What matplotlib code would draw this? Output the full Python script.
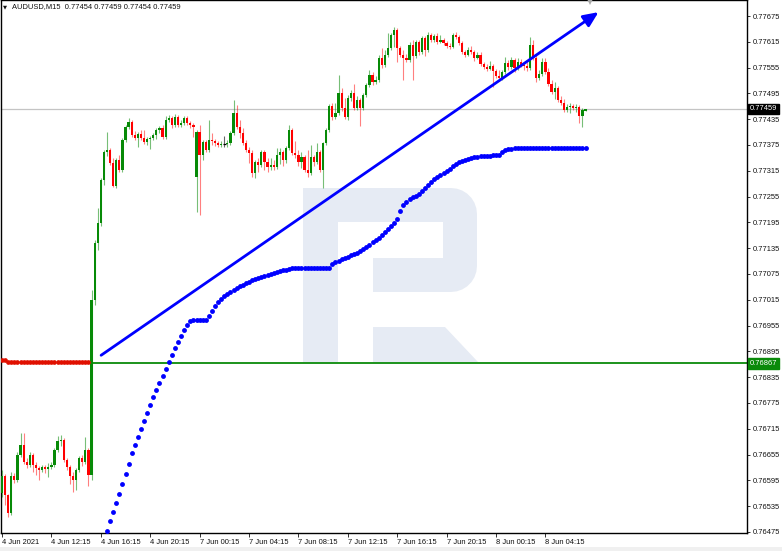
import numpy as np
import matplotlib
matplotlib.use("Agg")
import matplotlib.pyplot as plt
from matplotlib.patches import Polygon, Rectangle
import matplotlib.transforms as mtransforms

# ---------------- data ----------------
title_text = "AUDUSD,M15  0.77454 0.77459 0.77454 0.77459"

opens = [
 0.76566, 0.76605, 0.76561, 0.76519, 0.76605, 0.76596, 0.76654, 0.76677, 0.76638, 0.76631,
 0.76654, 0.76631, 0.76624, 0.76619, 0.76626, 0.76621, 0.76626, 0.76631, 0.76666, 0.76686,
 0.76689, 0.76642, 0.76626, 0.76605, 0.76596, 0.76619, 0.76647, 0.76638, 0.76666, 0.76607,
 0.77014, 0.77147, 0.77194, 0.77294, 0.77359, 0.77363, 0.77333, 0.77280, 0.77340, 0.77317,
 0.77387, 0.77417, 0.77428, 0.77398, 0.77391, 0.77400, 0.77391, 0.77382, 0.77389, 0.77391,
 0.77398, 0.77410, 0.77414, 0.77393, 0.77433, 0.77438, 0.77421, 0.77440, 0.77421, 0.77426,
 0.77438, 0.77426, 0.77421, 0.77301, 0.77405, 0.77352, 0.77382, 0.77363, 0.77387, 0.77384,
 0.77380, 0.77375, 0.77377, 0.77377, 0.77380, 0.77403, 0.77449, 0.77417, 0.77403, 0.77380,
 0.77363, 0.77356, 0.77310, 0.77335, 0.77328, 0.77359, 0.77335, 0.77324, 0.77328, 0.77324,
 0.77352, 0.77359, 0.77340, 0.77368, 0.77410, 0.77356, 0.77352, 0.77335, 0.77347, 0.77317,
 0.77310, 0.77347, 0.77335, 0.77359, 0.77317, 0.77380, 0.77410, 0.77466, 0.77440, 0.77449,
 0.77496, 0.77461, 0.77440, 0.77484, 0.77496, 0.77461, 0.77480, 0.77461, 0.77491, 0.77514,
 0.77538, 0.77522, 0.77526, 0.77577, 0.77561, 0.77584, 0.77601, 0.77631, 0.77642, 0.77601,
 0.77584, 0.77577, 0.77573, 0.77608, 0.77582, 0.77614, 0.77591, 0.77624, 0.77596, 0.77631,
 0.77619, 0.77628, 0.77614, 0.77619, 0.77612, 0.77605, 0.77603, 0.77631, 0.77626, 0.77612,
 0.77591, 0.77584, 0.77596, 0.77591, 0.77577, 0.77584, 0.77563, 0.77556, 0.77552, 0.77559,
 0.77547, 0.77535, 0.77531, 0.77545, 0.77566, 0.77556, 0.77573, 0.77554, 0.77568, 0.77561,
 0.77559, 0.77554, 0.77608, 0.77577, 0.77531, 0.77540, 0.77568, 0.77545, 0.77517, 0.77498,
 0.77508, 0.77480, 0.77473, 0.77456, 0.77463, 0.77466, 0.77461, 0.77463, 0.77442, 0.77454]

highs = [
 0.76619, 0.76610, 0.76563, 0.76614, 0.76612, 0.76661, 0.76705, 0.76705, 0.76647, 0.76661,
 0.76659, 0.76638, 0.76628, 0.76631, 0.76631, 0.76635, 0.76638, 0.76670, 0.76698, 0.76700,
 0.76693, 0.76647, 0.76631, 0.76614, 0.76624, 0.76652, 0.76654, 0.76696, 0.76670, 0.77038,
 0.77154, 0.77228, 0.77298, 0.77363, 0.77405, 0.77368, 0.77345, 0.77345, 0.77352, 0.77391,
 0.77421, 0.77438, 0.77433, 0.77407, 0.77405, 0.77410, 0.77410, 0.77393, 0.77396, 0.77403,
 0.77414, 0.77419, 0.77421, 0.77442, 0.77445, 0.77442, 0.77447, 0.77445, 0.77433, 0.77442,
 0.77442, 0.77431, 0.77426, 0.77410, 0.77421, 0.77387, 0.77387, 0.77433, 0.77403, 0.77389,
 0.77384, 0.77384, 0.77396, 0.77387, 0.77407, 0.77480, 0.77468, 0.77433, 0.77414, 0.77387,
 0.77370, 0.77363, 0.77340, 0.77345, 0.77363, 0.77363, 0.77345, 0.77345, 0.77340, 0.77368,
 0.77368, 0.77363, 0.77373, 0.77421, 0.77414, 0.77384, 0.77363, 0.77359, 0.77352, 0.77363,
 0.77375, 0.77352, 0.77380, 0.77363, 0.77382, 0.77414, 0.77470, 0.77473, 0.77473, 0.77538,
 0.77508, 0.77484, 0.77491, 0.77503, 0.77517, 0.77489, 0.77484, 0.77496, 0.77519, 0.77549,
 0.77545, 0.77535, 0.77584, 0.77601, 0.77596, 0.77635, 0.77635, 0.77649, 0.77647, 0.77605,
 0.77596, 0.77587, 0.77614, 0.77619, 0.77619, 0.77619, 0.77628, 0.77628, 0.77638, 0.77635,
 0.77633, 0.77635, 0.77631, 0.77624, 0.77617, 0.77612, 0.77635, 0.77638, 0.77631, 0.77617,
 0.77596, 0.77603, 0.77605, 0.77596, 0.77591, 0.77591, 0.77568, 0.77563, 0.77570, 0.77563,
 0.77552, 0.77549, 0.77549, 0.77580, 0.77573, 0.77580, 0.77577, 0.77577, 0.77575, 0.77568,
 0.77568, 0.77626, 0.77619, 0.77584, 0.77549, 0.77577, 0.77577, 0.77554, 0.77526, 0.77522,
 0.77512, 0.77489, 0.77482, 0.77470, 0.77473, 0.77470, 0.77470, 0.77468, 0.77461, 0.77459]

lows = [
 0.76556, 0.76538, 0.76510, 0.76514, 0.76589, 0.76591, 0.76649, 0.76633, 0.76624, 0.76626,
 0.76614, 0.76607, 0.76596, 0.76614, 0.76612, 0.76603, 0.76621, 0.76626, 0.76661, 0.76675,
 0.76638, 0.76619, 0.76586, 0.76568, 0.76572, 0.76614, 0.76628, 0.76633, 0.76582, 0.76596,
 0.77003, 0.77131, 0.77187, 0.77282, 0.77349, 0.77328, 0.77277, 0.77275, 0.77312, 0.77312,
 0.77382, 0.77412, 0.77393, 0.77387, 0.77370, 0.77387, 0.77377, 0.77375, 0.77366, 0.77387,
 0.77389, 0.77403, 0.77389, 0.77389, 0.77428, 0.77414, 0.77417, 0.77417, 0.77417, 0.77421,
 0.77421, 0.77414, 0.77393, 0.77219, 0.77212, 0.77340, 0.77359, 0.77359, 0.77375, 0.77373,
 0.77370, 0.77370, 0.77370, 0.77370, 0.77375, 0.77398, 0.77412, 0.77391, 0.77375, 0.77359,
 0.77333, 0.77301, 0.77298, 0.77312, 0.77324, 0.77317, 0.77312, 0.77317, 0.77317, 0.77319,
 0.77331, 0.77326, 0.77333, 0.77363, 0.77352, 0.77345, 0.77326, 0.77321, 0.77312, 0.77301,
 0.77305, 0.77326, 0.77331, 0.77312, 0.77275, 0.77375, 0.77405, 0.77433, 0.77435, 0.77445,
 0.77454, 0.77435, 0.77433, 0.77477, 0.77456, 0.77456, 0.77419, 0.77456, 0.77487, 0.77510,
 0.77514, 0.77517, 0.77522, 0.77554, 0.77556, 0.77580, 0.77596, 0.77603, 0.77568, 0.77580,
 0.77526, 0.77568, 0.77568, 0.77526, 0.77577, 0.77584, 0.77587, 0.77582, 0.77591, 0.77614,
 0.77614, 0.77610, 0.77612, 0.77608, 0.77601, 0.77598, 0.77601, 0.77621, 0.77608, 0.77587,
 0.77580, 0.77582, 0.77587, 0.77570, 0.77575, 0.77559, 0.77552, 0.77547, 0.77549, 0.77510,
 0.77531, 0.77524, 0.77526, 0.77540, 0.77549, 0.77552, 0.77545, 0.77549, 0.77556, 0.77549,
 0.77547, 0.77549, 0.77573, 0.77522, 0.77526, 0.77535, 0.77540, 0.77512, 0.77494, 0.77482,
 0.77475, 0.77468, 0.77452, 0.77452, 0.77449, 0.77456, 0.77452, 0.77426, 0.77417, 0.77454]

closes = [
 0.76605, 0.76561, 0.76519, 0.76605, 0.76596, 0.76654, 0.76677, 0.76638, 0.76631, 0.76654,
 0.76631, 0.76624, 0.76619, 0.76626, 0.76621, 0.76626, 0.76631, 0.76666, 0.76686, 0.76689,
 0.76642, 0.76626, 0.76605, 0.76596, 0.76619, 0.76647, 0.76638, 0.76666, 0.76607, 0.77014,
 0.77147, 0.77194, 0.77294, 0.77359, 0.77363, 0.77333, 0.77280, 0.77340, 0.77317, 0.77387,
 0.77417, 0.77428, 0.77398, 0.77391, 0.77400, 0.77391, 0.77382, 0.77389, 0.77391, 0.77398,
 0.77410, 0.77414, 0.77393, 0.77433, 0.77438, 0.77421, 0.77440, 0.77421, 0.77426, 0.77438,
 0.77426, 0.77421, 0.77417, 0.77405, 0.77352, 0.77382, 0.77363, 0.77387, 0.77384, 0.77380,
 0.77375, 0.77377, 0.77377, 0.77380, 0.77403, 0.77449, 0.77417, 0.77403, 0.77380, 0.77363,
 0.77356, 0.77310, 0.77335, 0.77328, 0.77359, 0.77335, 0.77324, 0.77328, 0.77324, 0.77352,
 0.77359, 0.77340, 0.77368, 0.77410, 0.77356, 0.77352, 0.77335, 0.77347, 0.77317, 0.77310,
 0.77347, 0.77335, 0.77359, 0.77317, 0.77380, 0.77410, 0.77466, 0.77440, 0.77449, 0.77496,
 0.77461, 0.77440, 0.77484, 0.77496, 0.77461, 0.77480, 0.77461, 0.77491, 0.77514, 0.77538,
 0.77522, 0.77526, 0.77577, 0.77561, 0.77584, 0.77601, 0.77631, 0.77642, 0.77601, 0.77584,
 0.77577, 0.77573, 0.77608, 0.77582, 0.77614, 0.77591, 0.77624, 0.77596, 0.77631, 0.77619,
 0.77628, 0.77614, 0.77619, 0.77612, 0.77605, 0.77603, 0.77631, 0.77626, 0.77612, 0.77591,
 0.77584, 0.77596, 0.77591, 0.77577, 0.77584, 0.77563, 0.77556, 0.77552, 0.77559, 0.77547,
 0.77535, 0.77531, 0.77545, 0.77566, 0.77556, 0.77573, 0.77554, 0.77568, 0.77561, 0.77559,
 0.77554, 0.77608, 0.77577, 0.77531, 0.77540, 0.77568, 0.77545, 0.77517, 0.77498, 0.77508,
 0.77480, 0.77473, 0.77456, 0.77463, 0.77466, 0.77461, 0.77463, 0.77442, 0.77456, 0.77459]

# indicator dots (blue) start at bar 34
blue_start = 34
blue_vals = [
 0.76477, 0.76500, 0.76521, 0.76542, 0.76563, 0.76586, 0.76610, 0.76633, 0.76659, 0.76677,
 0.76696, 0.76714, 0.76733, 0.76752, 0.76770, 0.76789, 0.76805, 0.76821, 0.76838, 0.76854,
 0.76870, 0.76886, 0.76903, 0.76917, 0.76931, 0.76945, 0.76956, 0.76966, 0.76968, 0.76968,
 0.76968, 0.76968, 0.76968, 0.76977, 0.76989, 0.77000, 0.77010, 0.77017, 0.77024, 0.77028,
 0.77033, 0.77038, 0.77042, 0.77047, 0.77049, 0.77054, 0.77056, 0.77061, 0.77063, 0.77066,
 0.77068, 0.77070, 0.77073, 0.77075, 0.77077, 0.77080, 0.77082, 0.77084, 0.77085, 0.77087,
 0.77088, 0.77088, 0.77088, 0.77088, 0.77088, 0.77088, 0.77088, 0.77090, 0.77090, 0.77090,
 0.77090, 0.77090, 0.77090,
 0.77098, 0.77103, 0.77105, 0.77110, 0.77112, 0.77114, 0.77119, 0.77121, 0.77124, 0.77128,
 0.77133, 0.77138, 0.77142, 0.77149, 0.77154, 0.77159, 0.77166, 0.77173, 0.77180, 0.77187,
 0.77194, 0.77203, 0.77221, 0.77235, 0.77242, 0.77249, 0.77254, 0.77256, 0.77261, 0.77268,
 0.77275, 0.77282, 0.77289, 0.77296, 0.77301, 0.77305, 0.77310, 0.77314, 0.77319, 0.77326,
 0.77331, 0.77335, 0.77338, 0.77340, 0.77342, 0.77345, 0.77347, 0.77348, 0.77349, 0.77349,
 0.77350, 0.77350, 0.77352, 0.77352, 0.77352, 0.77359, 0.77363, 0.77366, 0.77366, 0.77367,
 0.77369, 0.77369, 0.77369, 0.77369, 0.77369, 0.77369, 0.77369, 0.77369, 0.77369, 0.77369,
 0.77369, 0.77369, 0.77369, 0.77369, 0.77369, 0.77369, 0.77369, 0.77369, 0.77369, 0.77369,
 0.77369, 0.77369, 0.77369]

# indicator dots (red) bars 0..28
red_vals = [
 0.76875, 0.76874, 0.76871, 0.76871, 0.76871, 0.76871, 0.76871, 0.76871, 0.76871, 0.76871,
 0.76871, 0.76871, 0.76871, 0.76871, 0.76871, 0.76871, 0.76871, 0.76871, 0.76871, 0.76871,
 0.76871, 0.76871, 0.76871, 0.76871, 0.76871, 0.76871, 0.76871, 0.76871, 0.76871]

level_price = 0.76867
level_start = 28.6
last_price = 0.77459
trend_x = [32.1, 193.2]
trend_y = [0.76886, 0.77684]

xtick_pos = [0, 16, 32, 48, 64, 80, 96, 112, 128, 144, 160, 176]
xtick_labels = ["4 Jun 2021", "4 Jun 12:15", "4 Jun 16:15", "4 Jun 20:15",
                "7 Jun 00:15", "7 Jun 04:15", "7 Jun 08:15", "7 Jun 12:15",
                "7 Jun 16:15", "7 Jun 20:15", "8 Jun 00:15", "8 Jun 04:15"]
ytick_vals = [0.76475, 0.76535, 0.76595, 0.76655, 0.76715, 0.76775, 0.76835,
              0.76895, 0.76955, 0.77015, 0.77075, 0.77135, 0.77195, 0.77255,
              0.77315, 0.77375, 0.77435, 0.77495, 0.77555, 0.77615, 0.77675]

# ---------------- figure ----------------
FONT = "Liberation Sans"
FS = 5.4
TXT = "#101010"
W, HGT = 782, 551
PX_PER_BAR = 3.0875

fig = plt.figure(figsize=(W / 100, HGT / 100), dpi=100)
fig.patch.set_facecolor("white")
ax = fig.add_axes([1 / W, 18 / HGT, 746 / W, 533 / HGT])
ax.set_facecolor("white")
ax.set_xlim(-1 / PX_PER_BAR, 745 / PX_PER_BAR)
ax.set_ylim(0.7647267, 0.7771221)

def axp(x, y):
    return ((x - 1) / 746.0, (533 - y) / 533.0)

# watermark logo
wm = "#e6ebf4"
stem = [axp(303, 188), axp(338, 188), axp(338, 362), axp(303, 362)]
ax.add_patch(Polygon(stem, closed=True, transform=ax.transAxes, fc=wm, ec="none", zorder=0))
r = 26
bowl = [axp(338, 188), axp(477 - r, 188)]
for t in np.linspace(np.pi / 2, 0, 8):
    bowl.append(axp(477 - r + r * np.cos(t), 188 + r - r * np.sin(t)))
for t in np.linspace(0, -np.pi / 2, 8):
    bowl.append(axp(477 - r + r * np.cos(t), 292 - r - r * np.sin(t)))
bowl += [axp(373, 292), axp(373, 258), axp(443, 258), axp(443, 222), axp(338, 222)]
ax.add_patch(Polygon(bowl, closed=True, transform=ax.transAxes, fc=wm, ec="none", zorder=0))
leg = [axp(373, 327), axp(445, 327), axp(478, 362), axp(373, 362)]
ax.add_patch(Polygon(leg, closed=True, transform=ax.transAxes, fc=wm, ec="none", zorder=0))

# horizontal lines
ax.axhline(last_price, color="#c4c4c4", lw=0.9, zorder=1)
ax.hlines(level_price, level_start, 260, color="#0a8a0a", lw=1.3, zorder=2)

# candles
o = np.array(opens); h = np.array(highs); l = np.array(lows); c = np.array(closes)
idx = np.arange(len(c))
bull = c > o
bear = c < o
flat = c == o
GREEN = "#078a07"
RED = "#ff0000"
minh = 1.0 / 43000
ax.vlines(idx[bull], l[bull], h[bull], colors=GREEN, alpha=0.55, lw=0.8, zorder=3)
ax.vlines(idx[bear], l[bear], h[bear], colors=RED, alpha=0.5, lw=0.8, zorder=3)
ax.vlines(idx[flat], l[flat], h[flat], colors="black", alpha=0.6, lw=0.8, zorder=3)
ax.bar(idx[bull], np.maximum(c[bull] - o[bull], minh), bottom=o[bull], width=0.72,
       color=GREEN, lw=0, zorder=4)
ax.bar(idx[bear], np.maximum(o[bear] - c[bear], minh), bottom=c[bear], width=0.72,
       color=RED, lw=0, zorder=4)
ax.hlines(o[flat], idx[flat] - 0.4, idx[flat] + 0.4, colors="black", lw=0.9, zorder=4)

# indicator dots
ax.plot(np.arange(len(red_vals)), red_vals, "o", color="#e01000", ms=3.4, mew=0, zorder=5)
bidx = np.arange(blue_start, blue_start + len(blue_vals))
ax.plot(bidx, blue_vals, "o", color="#0000ff", ms=3.5, mew=0, zorder=6)

# trend line with arrow
ax.annotate("", xy=(trend_x[1], trend_y[1]), xytext=(trend_x[0], trend_y[0]),
            arrowprops=dict(arrowstyle="-|>,head_length=0.9,head_width=0.4",
                            color="#0000ff", lw=2.0, shrinkA=0, shrinkB=0,
                            mutation_scale=10), zorder=7)

# small grey shift marker at the top
trX = mtransforms.blended_transform_factory(ax.transData, ax.transAxes)
ax.plot([190.4], [0.996], "v", color="#a8a8a8", ms=4, mew=0, transform=trX,
        clip_on=False, zorder=8)

# title
ax.text(*axp(3, 7), "\u25BC", transform=ax.transAxes, fontsize=3.8, ha="left",
        va="center", color=TXT, family="DejaVu Sans")
ax.text(*axp(12.5, 6.5), title_text, transform=ax.transAxes, fontsize=FS, ha="left",
        va="center", color=TXT, family=FONT)

# axes styling
for s in ax.spines.values():
    s.set_color("black")
    s.set_linewidth(1.0)
ax.yaxis.tick_right()
ax.set_yticks(ytick_vals)
ax.set_yticklabels([f"{v:.5f}" for v in ytick_vals], family=FONT, fontsize=FS, color=TXT)
ax.tick_params(axis="y", length=2.5, width=0.6, pad=1.5, colors=TXT)
ax.set_xticks(xtick_pos)
ax.set_xticklabels(xtick_labels, family=FONT, fontsize=FS, color=TXT)
ax.tick_params(axis="x", length=3, width=0.6, pad=1.5, colors=TXT)
for t in ax.get_xticklabels():
    t.set_ha("left")

# price tags on the right axis
trY = mtransforms.blended_transform_factory(ax.transAxes, ax.transData)
ax.text(1.0 + 2.5 / 746, last_price, f"{last_price:.5f}", transform=trY, ha="left",
        va="center", fontsize=FS, color="white", family=FONT, clip_on=False, zorder=10,
        bbox=dict(boxstyle="square,pad=0.22", fc="black", ec="black"))
ax.text(1.0 + 2.5 / 746, level_price, f"{level_price:.5f}", transform=trY, ha="left",
        va="center", fontsize=FS, color="white", family=FONT, clip_on=False, zorder=10,
        bbox=dict(boxstyle="square,pad=0.22", fc="#0a8a0a", ec="#0a8a0a"))

# bottom window strip
fig.add_artist(Rectangle((0, 0), 1, 4 / HGT, transform=fig.transFigure,
                         fc="#f0f0f0", ec="none"))

fig.savefig("out.png", dpi=100)
